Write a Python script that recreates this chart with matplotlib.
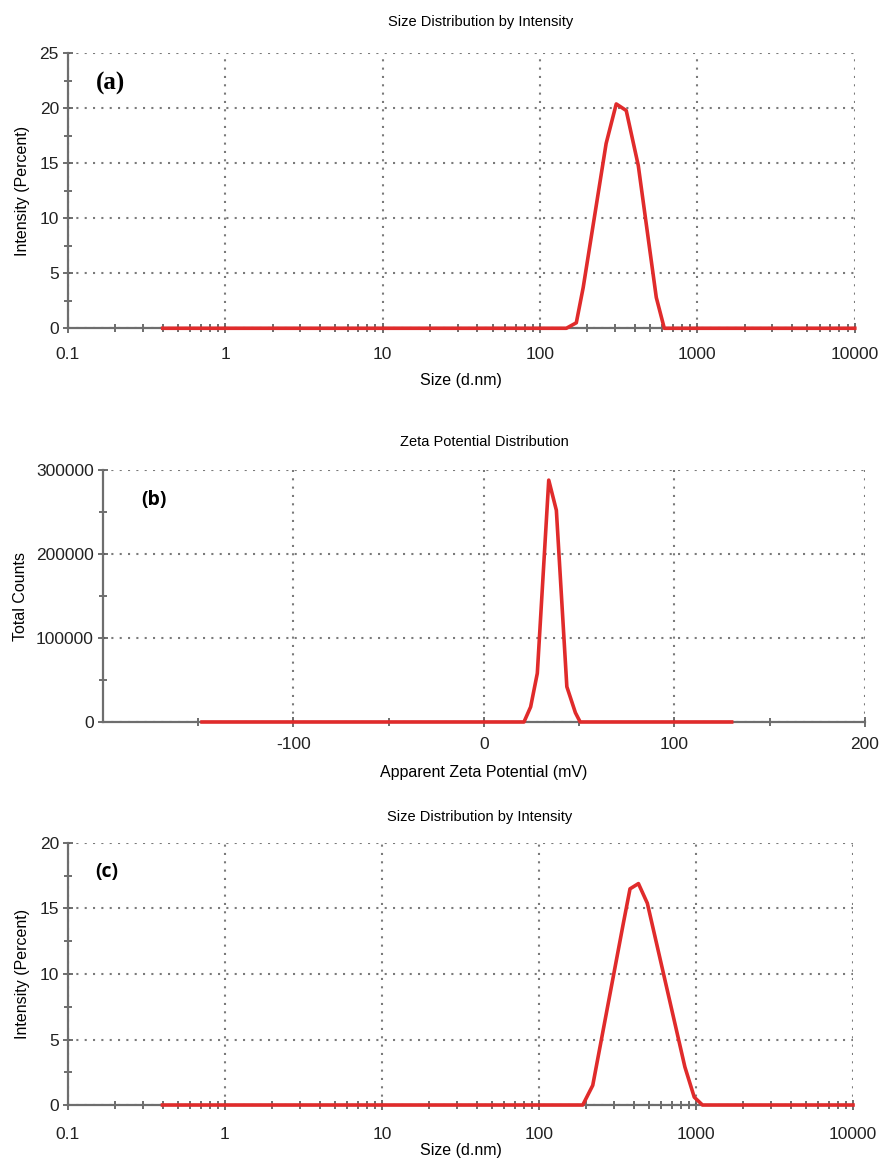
import matplotlib
matplotlib.use("Agg")
import matplotlib.pyplot as plt
from matplotlib.ticker import LogLocator, FixedLocator, NullFormatter

plt.rcParams['font.family'] = ['Liberation Sans', 'DejaVu Sans']
plt.rcParams['axes.unicode_minus'] = False

# (a) size distribution
size_a = [0.4, 147, 170, 188, 263, 305, 353, 421, 548, 616, 10000]
int_a = [0, 0, 0.5, 3.7, 16.8, 20.4, 19.8, 14.8, 2.8, 0, 0]

# (b) zeta potential
zeta_b = [-148, 21, 24.5, 28, 34, 38, 43.5, 48, 50.5, 130]
counts_b = [0, 0, 18000, 58000, 288000, 252000, 42000, 11000, 0, 0]

# (c) size distribution
size_c = [0.4, 190, 220, 345, 380, 430, 490, 850, 975, 1100, 10000]
int_c = [0, 0, 1.5, 13.9, 16.5, 16.9, 15.4, 2.9, 0.6, 0, 0]

red = '#e02b2b'
axcol = '#6e6e6e'
gridkw = dict(color='#7a7a7a', linestyle=(0, (1, 3)), linewidth=1.5)

fig = plt.figure(figsize=(8.83, 11.6), dpi=100)


def style(ax, xpad):
    for s in ['top', 'right']:
        ax.spines[s].set_visible(False)
    for s in ['left', 'bottom']:
        ax.spines[s].set_color(axcol)
        ax.spines[s].set_linewidth(1.6)
    ax.tick_params(which='both', direction='inout', length=7, width=1.2,
                   color='#555555', labelsize=12.5, labelcolor='#222222')
    ax.tick_params(axis='x', pad=xpad)
    ax.tick_params(axis='y', pad=3)
    ax.tick_params(which='minor', length=6)
    ax.grid(True, which='major', **gridkw)
    ax.set_axisbelow(True)


def size_panel(rect, x, y, ymax, tag, tagfont, title_pad, xpad, xlpad):
    ax = fig.add_axes(rect)
    ax.set_xscale('log')
    ax.set_xlim(0.1, 10000)
    ax.set_ylim(0, ymax)
    ax.set_xticks([0.1, 1, 10, 100, 1000, 10000])
    ax.set_xticklabels(['0.1', '1', '10', '100', '1000', '10000'])
    ax.xaxis.set_minor_locator(LogLocator(base=10, subs=range(2, 10)))
    ax.xaxis.set_minor_formatter(NullFormatter())
    ax.set_yticks(range(0, ymax + 1, 5))
    ax.yaxis.set_minor_locator(FixedLocator([v + 2.5 for v in range(0, ymax, 5)]))
    style(ax, xpad)
    ax.plot(x, y, color=red, lw=2.6, clip_on=False, zorder=5)
    ax.set_title('Size Distribution by Intensity', fontsize=10.5, pad=title_pad,
                 x=0.525)
    ax.set_xlabel('Size (d.nm)', fontsize=11.5, labelpad=xlpad)
    ax.set_ylabel('Intensity (Percent)', fontsize=11.5, labelpad=7)
    ax.text(0.035, 0.89, tag, transform=ax.transAxes, ha='left', va='center',
            **tagfont)
    return ax


size_panel([0.077, 0.717, 0.891, 0.237], size_a, int_a, 25, '(a)',
           dict(family=['Liberation Serif', 'DejaVu Serif'], fontweight='bold',
                fontsize=18), 20, 10, 8)

axb = fig.add_axes([0.1166, 0.3776, 0.863, 0.2172])
axb.set_xlim(-200, 200)
axb.set_ylim(0, 300000)
axb.set_xticks([-100, 0, 100, 200])
axb.xaxis.set_minor_locator(FixedLocator([-150, -50, 50, 150]))
axb.set_yticks([0, 100000, 200000, 300000])
axb.set_yticklabels(['0', '100000', '200000', '300000'])
axb.yaxis.set_minor_locator(FixedLocator([50000, 150000, 250000]))
style(axb, 7)
axb.plot(zeta_b, counts_b, color=red, lw=2.6, clip_on=False, zorder=5)
axb.set_title('Zeta Potential Distribution', fontsize=10.5, pad=17)
axb.set_xlabel('Apparent Zeta Potential (mV)', fontsize=11.5, labelpad=10)
axb.set_ylabel('Total Counts', fontsize=11.5, labelpad=6)
axb.text(0.05, 0.88, '(b)', transform=axb.transAxes, ha='left', va='center',
         family='Open Sans', fontweight='bold', fontsize=14)

size_panel([0.077, 0.0474, 0.889, 0.2259], size_c, int_c, 20, '(c)',
           dict(family='Open Sans', fontweight='bold', fontsize=14), 16, 12, 1)

fig.savefig('out.png', dpi=100)
